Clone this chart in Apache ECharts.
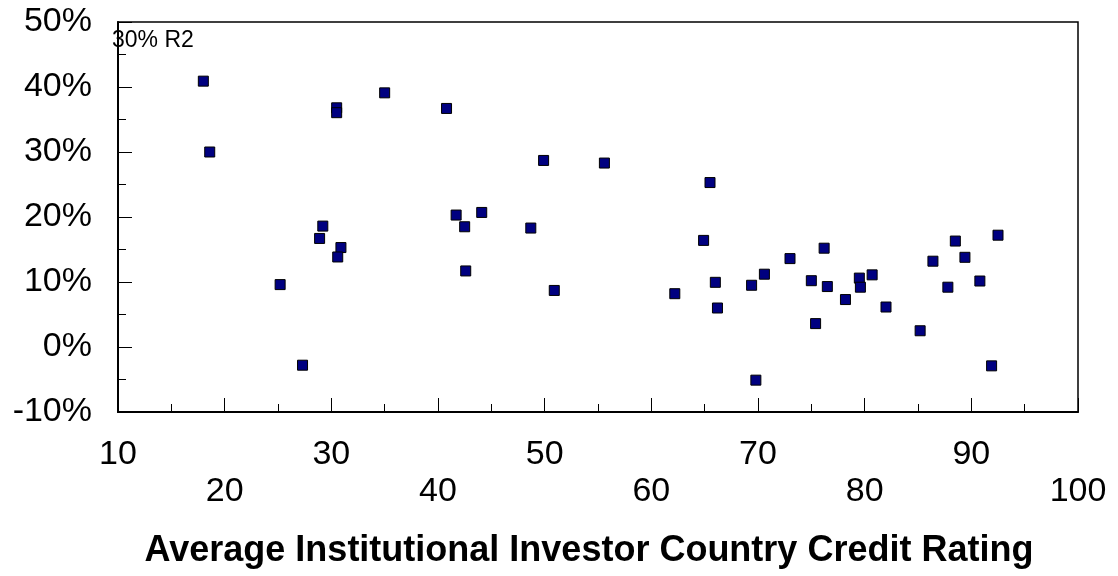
<!DOCTYPE html>
<html>
<head>
<meta charset="utf-8">
<title>Credit rating vs return</title>
<script src="https://cdn.jsdelivr.net/npm/echarts@6/dist/echarts.min.js"></script>
<style>
  html, body { margin: 0; padding: 0; background: #fff; }
  #chart { width: 1118px; height: 576px; }
</style>
</head>
<body>
<div id="chart"></div>
<script>
// Average Institutional Investor country credit rating (x) per country
const ratings = [
  18.0, 18.6, 30.5, 30.5, 29.2, 28.9, 30.9, 30.6, 25.2, 27.3,
  35.0, 40.8, 49.9, 55.6, 41.7, 44.1, 42.5, 48.7, 42.6, 50.9,
  65.5, 64.9, 62.2, 66.0, 66.2, 69.4, 70.6, 69.8, 73.0, 76.2,
  75.0, 76.5, 75.4, 78.2, 79.5, 79.6, 80.7, 82.0, 85.2, 86.4,
  87.8, 88.5, 89.4, 90.8, 91.9, 92.5
];
// Matching values on the percent axis
const returnsPct = [
  40.9, 30.0, 36.8, 36.05, 18.6, 16.7, 15.3, 13.85, 9.6, -2.8,
  39.1, 36.7, 28.7, 28.3, 20.3, 20.7, 18.5, 18.3, 11.7, 8.7,
  25.3, 16.4, 8.2, 9.95, 6.0, 9.5, 11.2, -5.1, 13.6, 15.2,
  10.2, 9.3, 3.6, 7.3, 10.6, 9.2, 11.1, 6.15, 2.5, 13.2,
  9.2, 16.3, 13.8, 10.15, -2.9, 17.2
];
const xTicks = [10, 20, 30, 40, 50, 60, 70, 80, 90, 100];
const yTicks = [-10, 0, 10, 20, 30, 40, 50];
const noteText = '30% R2';
const xTitle = 'Average Institutional Investor Country Credit Rating';

const points = ratings.map((r, i) => [r, returnsPct[i]]);
// Labels alternate between two rows: odd tens on top, even tens below
const upperRow = new Set([10, 30, 50, 70, 90]);

const FONT = '"Liberation Sans", Arial, sans-serif';
const chart = echarts.init(document.getElementById('chart'), null, { renderer: 'canvas' });

chart.setOption({
  backgroundColor: '#ffffff',
  animation: false,
  grid: {
    left: 118, right: 40, top: 22, bottom: 164,
    show: true, borderColor: '#000', borderWidth: 1.5, backgroundColor: 'transparent'
  },
  xAxis: {
    type: 'value',
    min: xTicks[0],
    max: xTicks[xTicks.length - 1],
    interval: 10,
    name: xTitle,
    nameLocation: 'middle',
    nameGap: 139,
    nameTextStyle: {
      fontFamily: FONT, fontSize: 36, fontWeight: 'bold', color: '#000',
      verticalAlign: 'middle',
      padding: [0, 18, 0, 0]
    },
    axisLine: { show: true, onZero: false, lineStyle: { color: '#000', width: 2 } },
    axisTick: { show: true, inside: true, length: 14, lineStyle: { color: '#000', width: 1 } },
    minorTick: { show: true, splitNumber: 2, length: 8, lineStyle: { color: '#000', width: 1 } },
    splitLine: { show: false },
    axisLabel: {
      margin: 24,
      fontFamily: FONT, fontSize: 34, color: '#000', lineHeight: 37,
      verticalAlign: 'top',
      formatter: v => (upperRow.has(v) ? String(v) : '\n' + v)
    }
  },
  yAxis: {
    type: 'value',
    min: yTicks[0],
    max: yTicks[yTicks.length - 1],
    interval: 10,
    axisLine: { show: true, onZero: false, lineStyle: { color: '#000', width: 2 } },
    axisTick: { show: true, inside: true, length: 14, lineStyle: { color: '#000', width: 1 } },
    minorTick: { show: true, splitNumber: 2, length: 8, lineStyle: { color: '#000', width: 1 } },
    splitLine: { show: false },
    axisLabel: {
      margin: 26,
      fontFamily: FONT, fontSize: 34, color: '#000',
      formatter: '{value}%'
    }
  },
  graphic: [{
    type: 'text',
    x: 112, y: 41,
    z: 10,
    style: {
      text: noteText,
      font: '23px ' + FONT,
      fill: '#000',
      verticalAlign: 'middle',
      align: 'left'
    }
  }],
  series: [{
    type: 'scatter',
    data: points,
    symbol: 'rect',
    symbolSize: 10,
    itemStyle: { color: '#000080', borderColor: '#000', borderWidth: 1, opacity: 1 },
    emphasis: { disabled: true }
  }]
});
</script>
</body>
</html>
